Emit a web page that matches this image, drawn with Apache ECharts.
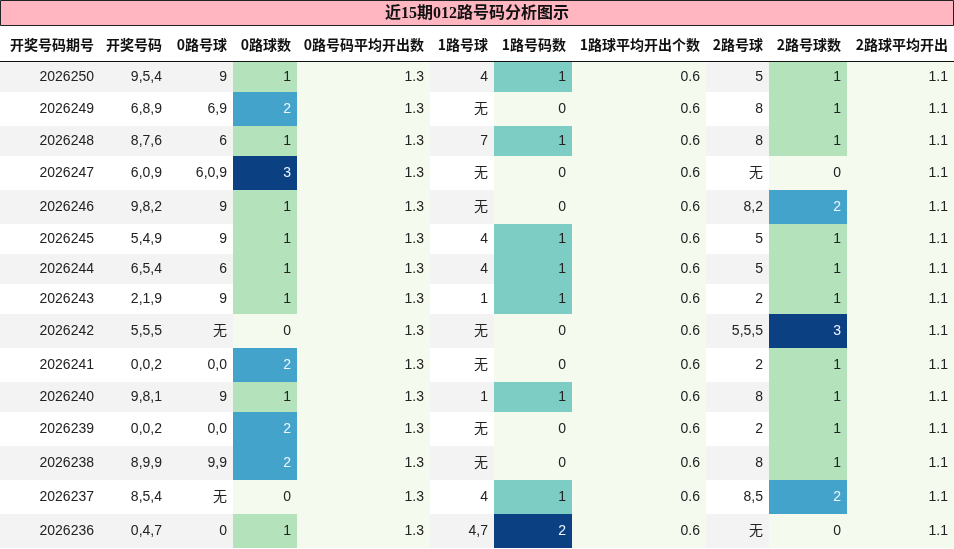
<!DOCTYPE html>
<html><head><meta charset="utf-8">
<script src="https://cdn.jsdelivr.net/npm/echarts@6/dist/echarts.min.js"></script>
<style>html,body{margin:0;padding:0;background:#fff}#c{width:954px;height:549px}</style>
</head><body><div id="c"></div>
<script>
var title = '近15期012路号码分析图示';
var headers = ['开奖号码期号','开奖号码','0路号球','0路球数','0路号码平均开出数','1路号球','1路号码数','1路球平均开出个数','2路号球','2路号球数','2路球平均开出'];
var periods = ['2026250','2026249','2026248','2026247','2026246','2026245','2026244','2026243','2026242','2026241','2026240','2026239','2026238','2026237','2026236'];
var draws = ['9,5,4','6,8,9','8,7,6','6,0,9','9,8,2','5,4,9','6,5,4','2,1,9','5,5,5','0,0,2','9,8,1','0,0,2','8,9,9','8,5,4','0,4,7'];
var balls0 = ['9','6,9','6','6,0,9','9','9','6','9','无','0,0','9','0,0','9,9','无','0'];
var count0 = [1,2,1,3,1,1,1,1,0,2,1,2,2,0,1];
var avg0 = [1.3,1.3,1.3,1.3,1.3,1.3,1.3,1.3,1.3,1.3,1.3,1.3,1.3,1.3,1.3];
var balls1 = ['4','无','7','无','无','4','4','1','无','无','1','无','无','4','4,7'];
var count1 = [1,0,1,0,0,1,1,1,0,0,1,0,0,1,2];
var avg1 = [0.6,0.6,0.6,0.6,0.6,0.6,0.6,0.6,0.6,0.6,0.6,0.6,0.6,0.6,0.6];
var balls2 = ['5','8','8','无','8,2','5','5','2','5,5,5','2','8','2','8','8,5','无'];
var count2 = [1,1,1,0,2,1,1,1,3,1,1,1,1,2,0];
var avg2 = [1.1,1.1,1.1,1.1,1.1,1.1,1.1,1.1,1.1,1.1,1.1,1.1,1.1,1.1,1.1];

var colEdges = [0,100,168,233,297,430,494,572,706,769,847,954];
var cols = [periods,draws,balls0,count0,avg0,balls1,count1,avg1,balls2,count2,avg2];
var n = periods.length;
var rowEdges = [0];
for (var r=0;r<n;r++){
  var hasNone = cols.some(function(c){return c[r]==='无';});
  rowEdges.push(rowEdges[r] + (hasNone?34:30));
}
var total = rowEdges[n];
var pale = '#f4fbee';
function countColor(v,max){
  if (v===0) return pale;
  if (max===2) return v===1 ? '#7ecdc4' : '#0b4083';
  return ['',' #b3e2bb'.trim(),'#43a3cb','#0b4083'][v];
}
var data = [];
for (var r=0;r<n;r++){
  for (var c=0;c<cols.length;c++){
    var bg = r%2===0 ? '#f3f3f3' : '#ffffff';
    var fg = '#222';
    if (c===4||c===7||c===10) bg = pale;
    if (c===3||c===6||c===9){
      var max = Math.max.apply(null, cols[c]);
      bg = countColor(cols[c][r], max);
      if (cols[c][r]>=2) fg = '#eef6ff';
    }
    data.push({value:[c,r,String(cols[c][r])], bg:bg, fg:fg});
  }
}
var chart = echarts.init(document.getElementById('c'));
chart.setOption({
  animation:false,
  grid:{left:0,right:0,top:62,bottom:549-62-total},
  xAxis:{type:'value',min:0,max:954,show:false},
  yAxis:{type:'value',min:0,max:total,inverse:true,show:false},
  graphic:[
    {type:'rect',shape:{x:0.5,y:0.5,width:953,height:25},style:{fill:'#ffb6c1',stroke:'#222',lineWidth:1}},
    {type:'text',x:477,y:14,style:{text:title,fill:'#111',font:'bold 16px "Liberation Serif","Noto Sans CJK SC"',align:'center',verticalAlign:'middle'}},
    {type:'line',shape:{x1:0,y1:61.5,x2:954,y2:61.5},style:{stroke:'#111',lineWidth:1}}
  ].concat(headers.map(function(h,i){
    return {type:'text',x:colEdges[i+1]-6,y:45,style:{text:h,fill:'#111',font:'bold 14px "Noto Sans CJK SC"',align:'right',verticalAlign:'middle'}};
  })),
  series:[{
    type:'custom',
    data:data,
    renderItem:function(params,api){
      var d = data[params.dataIndex];
      var c = d.value[0], r = d.value[1];
      var p0 = api.coord([colEdges[c], rowEdges[r]]);
      var p1 = api.coord([colEdges[c+1], rowEdges[r+1]]);
      return {type:'group',children:[
        {type:'rect',shape:{x:p0[0],y:p0[1],width:p1[0]-p0[0],height:p1[1]-p0[1]},style:{fill:d.bg}},
        {type:'text',x:p1[0]-6,y:(p0[1]+p1[1])/2,style:{text:d.value[2],fill:d.fg,font:'14px "Liberation Sans","Noto Sans CJK SC"',align:'right',verticalAlign:'middle'}}
      ]};
    }
  }]
});
</script></body></html>
